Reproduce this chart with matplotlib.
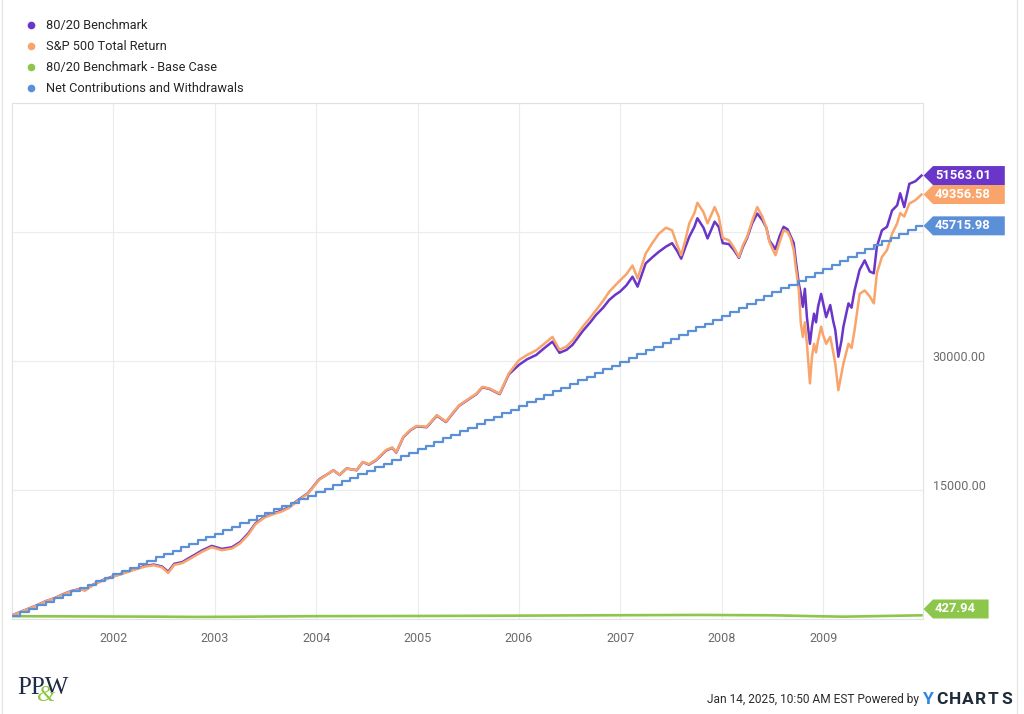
import numpy as np
import matplotlib
matplotlib.use("Agg")
import matplotlib.pyplot as plt
from matplotlib.patches import Polygon
from matplotlib.lines import Line2D

plt.rcParams['font.family'] = ['Roboto', 'DejaVu Sans']

# ---------------- data ----------------
series_names = ["80/20 Benchmark", "S&P 500 Total Return",
                "80/20 Benchmark - Base Case", "Net Contributions and Withdrawals"]
series_colors = ["#6a35c9", "#f8a46b", "#8cc64a", "#5b8fd7"]

dates = [2001.00, 2001.08, 2001.17, 2001.25, 2001.33, 2001.42, 2001.50, 2001.58, 2001.67, 2001.72,
         2001.80, 2001.90, 2002.00, 2002.10, 2002.20, 2002.31, 2002.40, 2002.48, 2002.54, 2002.60,
         2002.68, 2002.74, 2002.80, 2002.87, 2002.97, 2003.07, 2003.17, 2003.25, 2003.33, 2003.40,
         2003.49, 2003.58, 2003.66, 2003.73, 2003.82, 2003.92, 2004.03, 2004.12, 2004.17, 2004.23,
         2004.30, 2004.40, 2004.46, 2004.52, 2004.59, 2004.69, 2004.75, 2004.79, 2004.86, 2004.93,
         2004.99, 2005.09, 2005.19, 2005.28, 2005.35, 2005.41, 2005.51, 2005.58, 2005.64, 2005.71,
         2005.81, 2005.90, 2006.00, 2006.08, 2006.17, 2006.25, 2006.33, 2006.40, 2006.47, 2006.53,
         2006.63, 2006.70, 2006.76, 2006.83, 2006.89, 2006.95, 2007.00, 2007.06, 2007.12, 2007.17,
         2007.25, 2007.32, 2007.38, 2007.45, 2007.51, 2007.56, 2007.60, 2007.64, 2007.68, 2007.73,
         2007.76, 2007.82, 2007.86, 2007.93, 2007.97, 2008.01, 2008.07, 2008.12, 2008.17, 2008.21,
         2008.25, 2008.30, 2008.35, 2008.40, 2008.44, 2008.47, 2008.53, 2008.57, 2008.61, 2008.65,
         2008.68, 2008.71, 2008.73, 2008.76, 2008.78, 2008.80, 2008.82, 2008.84, 2008.87, 2008.89,
         2008.91, 2008.93, 2008.95, 2008.98, 2009.00, 2009.03, 2009.07, 2009.10, 2009.12, 2009.15,
         2009.18, 2009.20, 2009.25, 2009.28, 2009.31, 2009.36, 2009.41, 2009.46, 2009.50, 2009.53,
         2009.58, 2009.63, 2009.68, 2009.73, 2009.76, 2009.80, 2009.85, 2009.91, 2009.97]

sp500_total_return = [
    420, 800, 1230, 1600, 2050, 2400, 2850, 3200, 3450, 3300,
    3950, 4500, 4920, 5300, 5700, 6100, 6250, 6000, 5350, 6300,
    6500, 6900, 7300, 7800, 8350, 8000, 8200, 8800, 9800, 11000,
    11800, 12200, 12500, 12900, 13750, 14600, 16200, 16900, 17300, 16750,
    17500, 17300, 18250, 18000, 18500, 19650, 19950, 19400, 21200, 22000,
    22450, 22350, 23700, 22950, 24000, 24850, 25650, 26200, 27000, 26800,
    26200, 28550, 30100, 30700, 31250, 32000, 32800, 31300, 31700, 32400,
    34000, 35000, 35900, 37000, 38050, 38800, 39400, 40100, 41100, 39600,
    42500, 43800, 44800, 45500, 45200, 43500, 42300, 44000, 46000, 47200,
    48400, 47300, 46000, 47900, 46800, 44300, 44050, 43200, 42100, 43500,
    44450, 46300, 47900, 46800, 45500, 43850, 42300, 43800, 45200, 45000,
    44250, 42900, 40900, 38300, 34400, 32800, 34500, 32000, 27400, 30500,
    32000, 31000, 32400, 34000, 33000, 32000, 32800, 31000, 29700, 26600,
    28500, 29700, 32000, 31500, 33600, 37800, 38200, 37500, 36700, 40200,
    42100, 42900, 44800, 46000, 47200, 46800, 48300, 48700, 49356.58]

benchmark_80_20 = [
    420, 810, 1240, 1620, 2060, 2420, 2870, 3230, 3500, 3350,
    4000, 4550, 4970, 5360, 5760, 6180, 6330, 6100, 5500, 6420,
    6620, 7050, 7450, 7950, 8500, 8150, 8350, 8950, 9950, 11100,
    11880, 12300, 12600, 13000, 13820, 14650, 16250, 16900, 17300, 16750,
    17500, 17300, 18250, 17950, 18450, 19600, 19900, 19350, 21150, 21950,
    22400, 22300, 23650, 22900, 23950, 24800, 25600, 26150, 26950, 26750,
    26150, 28450, 29550, 30200, 30700, 31500, 32250, 30950, 31300, 31900,
    33500, 34450, 35350, 36200, 37100, 37700, 38100, 38800, 39800, 38650,
    41350, 42100, 42700, 43300, 43700, 42800, 41900, 43200, 44450, 45600,
    46600, 45500, 44250, 46200, 45600, 43700, 43600, 42900, 42000, 43300,
    44300, 46000, 47150, 46400, 45500, 44000, 43000, 44500, 45600, 45300,
    44500, 43700, 41700, 39000, 37800, 36300, 38400, 35100, 32000, 34000,
    35500, 34500, 36300, 37800, 36700, 35100, 36500, 34600, 33600, 30500,
    32300, 34000, 36700, 36200, 38200, 40600, 41700, 40400, 40200, 43300,
    45200, 45600, 47500, 48100, 49500, 47900, 50600, 50900, 51563.01]

base_case_dates = [2001.00, 2001.70, 2002.50, 2002.80, 2003.20, 2004.00, 2005.00, 2006.00,
                   2007.00, 2007.80, 2008.50, 2008.90, 2009.20, 2009.97]
base_case_values = [330, 300, 270, 240, 260, 330, 350, 390, 440, 470, 430, 330, 270, 427.94]

# cumulative net contributions, one value per month (Jan 2001 - Dec 2009)
net_contributions = [
    400, 800, 1200, 1600, 2000, 2400, 2800, 3200, 3600, 4000, 4400, 4800,
    5195, 5590, 5985, 6380, 6775, 7170, 7565, 7960, 8355, 8750, 9145, 9540,
    9940, 10340, 10740, 11140, 11540, 11940, 12340, 12740, 13140, 13540, 13940, 14340,
    14755, 15170, 15585, 16000, 16415, 16830, 17245, 17660, 18075, 18490, 18905, 19320,
    19740, 20160, 20580, 21000, 21420, 21840, 22260, 22680, 23100, 23520, 23940, 24360,
    24785, 25210, 25635, 26060, 26485, 26910, 27335, 27760, 28185, 28610, 29035, 29460,
    29905, 30350, 30795, 31240, 31685, 32130, 32575, 33020, 33465, 33910, 34355, 34800,
    35255, 35710, 36165, 36620, 37075, 37530, 37985, 38440, 38895, 39350, 39805, 40260,
    40715, 41169, 41624, 42079, 42533, 42988, 43443, 43897, 44352, 44806, 45261, 45715.98]

year_ticks = [2002, 2003, 2004, 2005, 2006, 2007, 2008, 2009]
year_labels = ["2002", "2003", "2004", "2005", "2006", "2007", "2008", "2009"]
y_ticks = [0, 15000, 30000, 45000, 60000]
y_tick_labels = ["", "15000.00", "30000.00", "", ""]

# ---------------- figure ----------------
W, H = 1024, 714
fig = plt.figure(figsize=(W / 100, H / 100), dpi=100)
fig.patch.set_facecolor("white")


def fx(px):
    return px / W


def fy(py):
    return 1 - py / H


ax = fig.add_axes([fx(12), fy(619), fx(923) - fx(12), fy(103) - fy(619)])
x_min, x_max = 2001.0, 2009.985
ax.set_xlim(x_min, x_max)
ax.set_ylim(0, 60000)

ax.plot(base_case_dates, base_case_values, color=series_colors[2], lw=1.9, zorder=2)
ax.plot(dates, benchmark_80_20, color=series_colors[0], lw=1.8, zorder=3)
ax.plot(dates, sp500_total_return, color=series_colors[1], lw=1.8, zorder=4)

months = 2001 + np.arange(len(net_contributions)) / 12.0
step_x = np.append(months, x_max)
step_y = np.append(net_contributions, net_contributions[-1])
ax.step(step_x, step_y, where="post", color=series_colors[3], lw=1.6, zorder=5)

ax.set_xticks(year_ticks)
ax.set_xticklabels(year_labels)
ax.set_yticks(y_ticks)
ax.set_yticklabels(y_tick_labels)
ax.yaxis.tick_right()
ax.tick_params(axis="both", length=0, colors="#6b6b6b", labelsize=9)
ax.tick_params(axis="x", pad=9)
ax.tick_params(axis="y", pad=7)
for lab in ax.get_yticklabels():
    lab.set_verticalalignment("baseline")
    lab.set_horizontalalignment("left")
ax.grid(True, color="#ececec", lw=0.8, zorder=0)
for sp in ax.spines.values():
    sp.set_color("#e2e2e2")
    sp.set_linewidth(0.8)

# ---------------- end-value tags ----------------
end_values = [benchmark_80_20[-1], sp500_total_return[-1], base_case_values[-1], net_contributions[-1]]
for val, col in zip(end_values, series_colors):
    ydisp = ax.transData.transform((x_max, val))[1]
    ypx = H - ydisp
    ypx = min(ypx, 609)
    label = f"{val:.2f}"
    right = 940 + 8.1 * len(label)
    half = 9.5
    pts = [(923.5, ypx), (933, ypx - half), (right, ypx - half), (right, ypx + half), (933, ypx + half)]
    poly = Polygon([(fx(p[0]), fy(p[1])) for p in pts], closed=True, transform=fig.transFigure,
                   facecolor=col, edgecolor="none", zorder=10)
    fig.patches.append(poly)
    fig.text(fx(935), fy(ypx), label, color="white", fontsize=9.4, fontweight="bold",
             ha="left", va="center", zorder=11)

# ---------------- legend ----------------
for i, (name, col) in enumerate(zip(series_names, series_colors)):
    yy = 25 + 21 * i
    fig.add_artist(Line2D([fx(31)], [fy(yy)], marker="o", markersize=5.5, color=col,
                          markeredgewidth=0, transform=fig.transFigure))
    fig.text(fx(46), fy(yy), name, fontsize=9.2, color="#262626", ha="left", va="center")

# ---------------- footer ----------------
fig.text(fx(919), fy(699), "Jan 14, 2025, 10:50 AM EST Powered by", fontsize=8.6,
         color="#2b2b2b", ha="right", va="center")
logo_letters = "YCHARTS"
for i, ch in enumerate(logo_letters):
    fig.text(fx(923 + 13 * i), fy(700), ch, fontsize=12.5, fontweight="bold",
             color="#2f86e0" if i == 0 else "#1d2a38", ha="left", va="center")

# PP&W logo
fig.text(fx(17), fy(694), "PPW", family="Liberation Serif", fontsize=18, color="#1f2a44",
         ha="left", va="baseline")
fig.text(fx(37), fy(701), "&", family="Liberation Serif", style="italic", fontsize=17,
         color="#8cc63f", ha="left", va="baseline")

# light frame lines at the image edges
fig.add_artist(Line2D([fx(2), fx(2)], [0, 1], color="#e6e6e6", lw=1, transform=fig.transFigure))
fig.add_artist(Line2D([fx(1017), fx(1017)], [0, 1], color="#e6e6e6", lw=1, transform=fig.transFigure))

fig.savefig("out.png", dpi=100, facecolor="white")
